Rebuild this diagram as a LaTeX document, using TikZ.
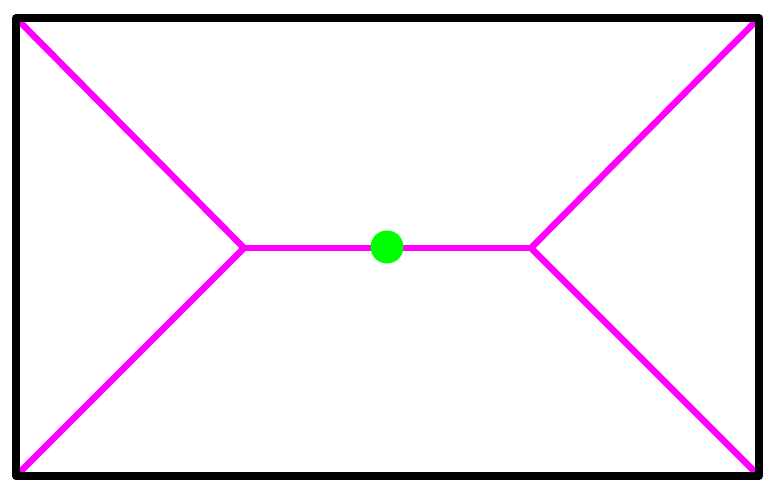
\documentclass[tikz,border=0pt]{standalone}
\definecolor{mag}{RGB}{255,0,255}
\definecolor{grn}{RGB}{0,255,0}
\begin{document}
\begin{tikzpicture}[x=1pt,y=-1pt,
  frame/.style={draw=black,line width=8pt,line join=round},
  ridge/.style={draw=mag,line width=6.5pt},
  dot/.style={circle,fill=grn,inner sep=0pt,minimum size=33pt}]
\useasboundingbox (0,0) rectangle (776,496);
\coordinate (tl) at (16,18);
\coordinate (tr) at (759,18);
\coordinate (bl) at (16,476);
\coordinate (br) at (759,476);
\coordinate (l) at (244,248);
\coordinate (r) at (531,248);
\draw[ridge] (tl) -- (l) -- (bl);
\draw[ridge] (tr) -- (r) -- (br);
\draw[ridge] (l) -- (r);
\node[dot] (c) at (387,247) {};
\draw[frame] (tl) rectangle (br);
\end{tikzpicture}
\end{document}
